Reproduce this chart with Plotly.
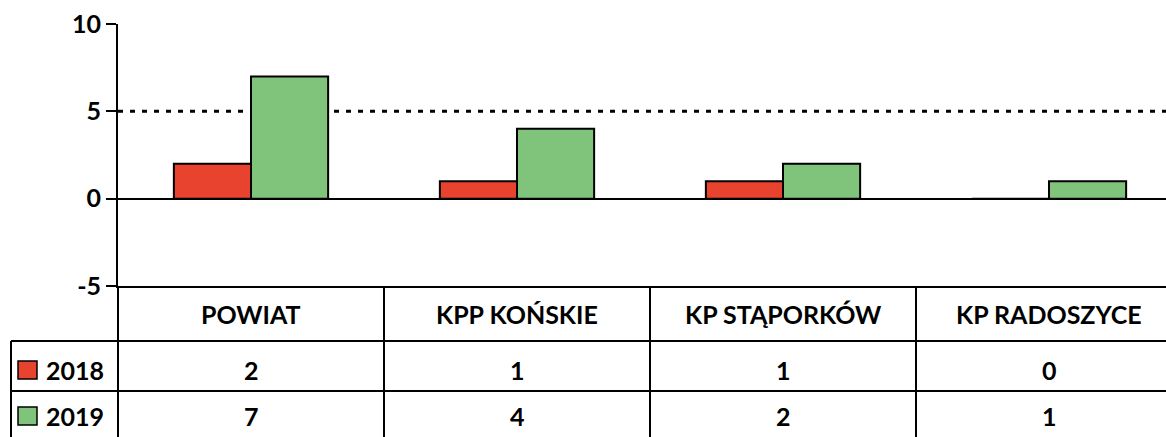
import plotly.graph_objects as go

categories = ["POWIAT", "KPP KOŃSKIE", "KP STĄPORKÓW", "KP RADOSZYCE"]
series_names = ["2018", "2019"]
values_2018 = [2, 1, 1, 0]
values_2019 = [7, 4, 2, 1]
y_ticks = [-5, 0, 5, 10]
y_tick_labels = ["-5", "0", "5", "10"]
reference_level = 5

colors = {"2018": "#E8432E", "2019": "#80C47C"}
FONT = "Lato"

W, H = 1166, 437
L, R, T, B = 118, 0, 24, 151
PW, PH = W - L - R, H - T - B


def px_x(p):
    return (p - L) / PW


def px_y(p):
    return (H - B - p) / PH


idx = list(range(len(categories)))

fig = go.Figure()
for name, vals in zip(series_names, [values_2018, values_2019]):
    fig.add_trace(go.Bar(
        x=idx, y=vals, name=name,
        marker=dict(color=colors[name], line=dict(color="black", width=2)),
        showlegend=False,
    ))

shapes = []
shapes.append(dict(type="line", xref="paper", yref="y", x0=0, x1=1,
                   y0=reference_level, y1=reference_level,
                   line=dict(color="black", width=3, dash="5px,7px"), layer="below"))
shapes.append(dict(type="line", xref="paper", yref="paper", x0=0, x1=0,
                   y0=0, y1=px_y(H + 10), line=dict(color="black", width=2)))
for yp in [341, 391]:
    shapes.append(dict(type="line", xref="paper", yref="paper", x0=px_x(11), x1=1,
                       y0=px_y(yp), y1=px_y(yp), line=dict(color="black", width=2)))
shapes.append(dict(type="line", xref="paper", yref="paper", x0=px_x(11), x1=px_x(11),
                   y0=px_y(341), y1=px_y(H + 10), line=dict(color="black", width=2)))
for i in idx[:-1]:
    shapes.append(dict(type="line", xref="x", yref="paper", x0=i + 0.5, x1=i + 0.5,
                       y0=0, y1=px_y(H + 10), line=dict(color="black", width=2)))

annotations = []
for i, c in zip(idx, categories):
    annotations.append(dict(xref="x", yref="paper", x=i, y=px_y(314), text=c,
                            showarrow=False, xanchor="center", yanchor="middle",
                            font=dict(family=FONT, size=25, color="black", weight="bold")))
row_centers = [370, 416]
for name, vals, yc in zip(series_names, [values_2018, values_2019], row_centers):
    shapes.append(dict(type="rect", xref="paper", yref="paper",
                       x0=px_x(18), x1=px_x(37), y0=px_y(yc - 9), y1=px_y(yc + 9),
                       fillcolor=colors[name], line=dict(color="black", width=1.5)))
    annotations.append(dict(xref="paper", yref="paper", x=px_x(44), y=px_y(yc), text=name,
                            showarrow=False, xanchor="left", yanchor="middle",
                            font=dict(family=FONT, size=25, color="black", weight="bold")))
    for i, v in zip(idx, vals):
        annotations.append(dict(xref="x", yref="paper", x=i, y=px_y(yc), text=str(v),
                                showarrow=False, xanchor="center", yanchor="middle",
                                font=dict(family=FONT, size=25, color="black", weight="bold")))

fig.update_layout(
    width=W, height=H, autosize=False,
    margin=dict(l=L, r=R, t=T, b=B, pad=0),
    paper_bgcolor="white", plot_bgcolor="white",
    barmode="group", bargap=0.42, bargroupgap=0,
    shapes=shapes, annotations=annotations,
    xaxis=dict(range=[-0.5, -0.5 + PW / 266.0], showticklabels=False, ticks="",
               showgrid=False, zeroline=False, showline=True, linecolor="black", linewidth=2),
    yaxis=dict(range=[-5, 10], tickvals=y_ticks, ticktext=y_tick_labels,
               ticks="outside", ticklen=10, tickwidth=2,
               tickcolor="black", showline=True, linecolor="black", linewidth=2,
               showgrid=False, zeroline=True, zerolinecolor="black", zerolinewidth=2,
               tickfont=dict(family=FONT, size=25, color="black", weight="bold")),
)

fig.write_html("out.html", config={"displayModeBar": False},
               post_script="document.body.style.margin='0';document.body.style.overflow='hidden';")
